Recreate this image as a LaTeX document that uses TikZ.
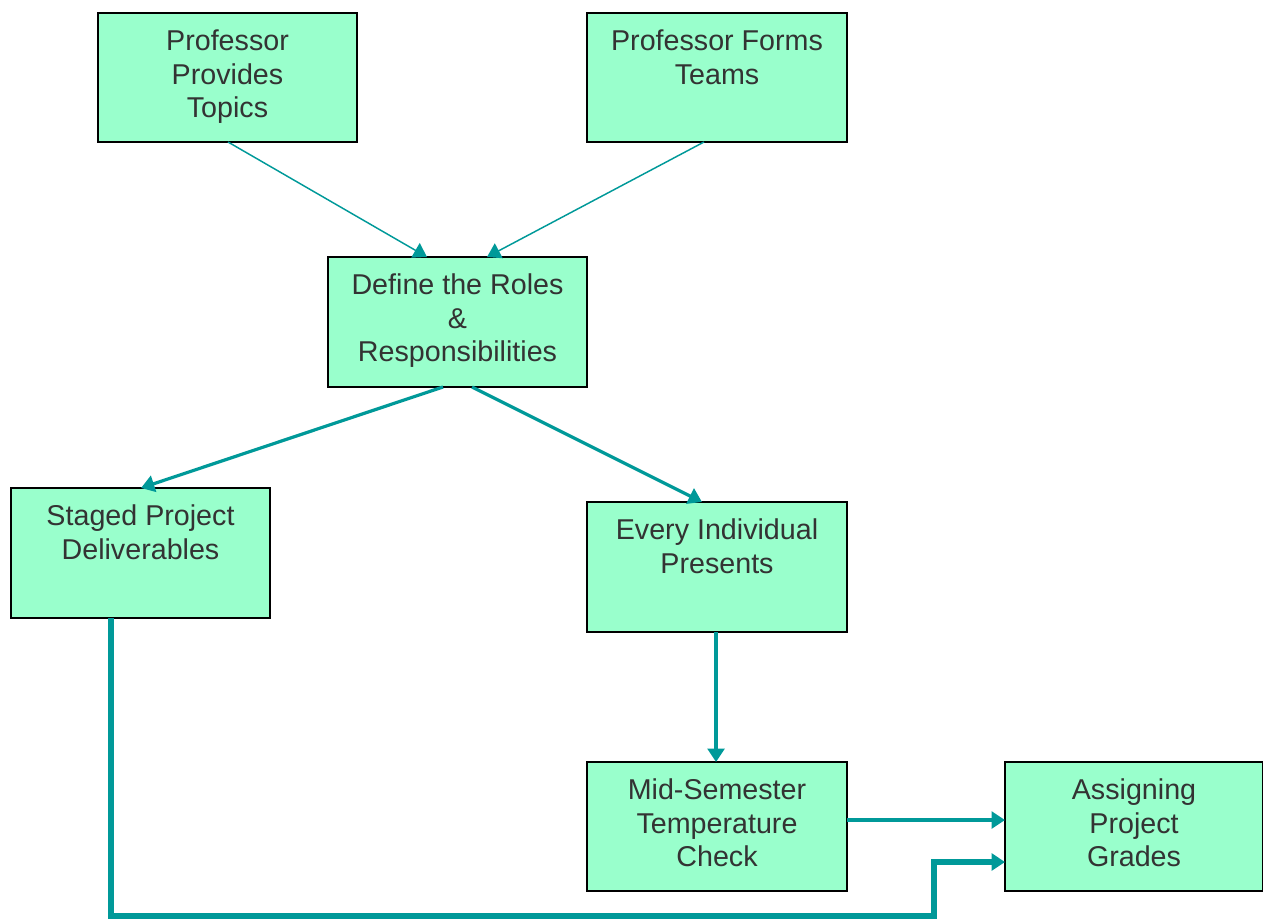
\documentclass[tikz,border=0pt]{standalone}
\usepackage{fontspec}
\setmainfont{Liberation Sans}
\usetikzlibrary{arrows.meta,calc}
\definecolor{boxfill}{HTML}{99FFCC}
\definecolor{teal2}{HTML}{009999}
\definecolor{txtgray}{HTML}{333333}
\tikzset{
  box/.style={draw=black, line width=1.5pt, fill=boxfill, rectangle, inner sep=0pt, outer sep=0pt},
  boxtxt/.style={anchor=north, align=center, inner sep=0pt, text=txtgray, font=\fontsize{21.5pt}{25pt}\selectfont, yshift=-12.6pt},
  tip/.style={-{Triangle[length=10pt,width=12.5pt]}},
  thinconn/.style={tip, draw=teal2, line width=1.1pt},
  midconn/.style={tip, draw=teal2, line width=2.4pt},
  thickconn/.style={tip, draw=teal2, line width=4.3pt}
}
\begin{document}
\begin{tikzpicture}[x=0.75pt,y=-0.75pt]
\useasboundingbox (0,0) rectangle (1263,920);
\node[box, minimum width=194.25pt, minimum height=96.75pt] (a) at (227.5,77.5) {};
\node[box, minimum width=195pt, minimum height=96.75pt] (b) at (717,77.5) {};
\node[box, minimum width=194.25pt, minimum height=97.5pt] (c) at (457.5,322) {};
\node[box, minimum width=194.25pt, minimum height=97.5pt] (d) at (140.5,553) {};
\node[box, minimum width=195pt, minimum height=97.5pt] (e) at (717,567) {};
\node[box, minimum width=195pt, minimum height=96.75pt] (f) at (717,826.5) {};
\node[box, minimum width=193.5pt, minimum height=96.75pt] (g) at (1134,826.5) {};
\node[boxtxt] (at) at (a.north) {Professor\\Provides\\Topics};
\node[boxtxt] (bt) at (b.north) {Professor Forms\\Teams};
\node[boxtxt] (ct) at (c.north) {Define the Roles\\\&\\Responsibilities};
\node[boxtxt] (dt) at (d.north) {Staged Project\\Deliverables};
\node[boxtxt] (et) at (e.north) {Every Individual\\Presents};
\node[boxtxt] (ft) at (f.north) {Mid-Semester\\Temperature\\Check};
\node[boxtxt] (gt) at (g.north) {Assigning\\Project\\Grades};
\draw[thinconn] ($(a.south)+(0.5,0)$) -- ($(c.north)+(-30.5,0)$);
\draw[thinconn] ($(b.south)+(-13,0)$) -- ($(c.north)+(29.5,0)$);
\draw[midconn] ($(c.south)+(-14.5,0)$) -- ($(d.north)+(0.5,0)$);
\draw[midconn] ($(c.south)+(14.5,0)$) -- ($(e.north)+(-15,0)$);
\draw[midconn] ($(e.south)+(-1,0)$) -- ($(f.north)+(-1,0)$);
\draw[midconn] ($(f.east)+(0,-6.5)$) -- ($(g.west)+(0,-6.5)$);
\coordinate (k1) at (934,916);
\draw[thickconn] ($(d.south)+(-29.5,0)$) |- (k1) |- ($(g.west)+(0,35.5)$);
\end{tikzpicture}
\end{document}
